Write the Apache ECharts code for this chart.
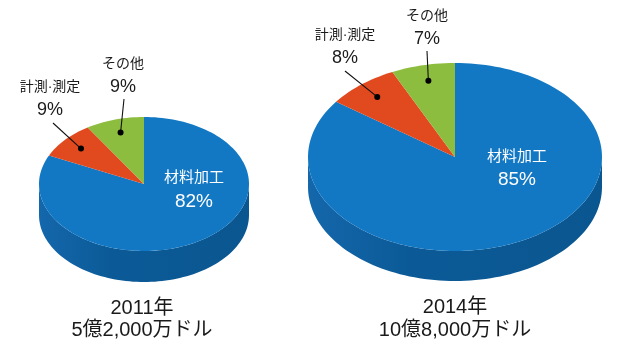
<!DOCTYPE html>
<html>
<head>
<meta charset="utf-8">
<script src="https://cdn.jsdelivr.net/npm/echarts@6/dist/echarts.min.js"></script>
<style>
  html, body { margin: 0; padding: 0; background: #fff; }
  #chart { width: 620px; height: 350px; }
</style>
</head>
<body>
<div id="chart"></div>
<script>
// Segment names and shares (%) for the two years
const categories = ['材料加工', '計測·測定', 'その他'];
const share2011 = [82, 9, 9];
const share2014 = [85, 8, 7];
const years = ['2011年', '2014年'];
const marketSize = ['5億2,000万ドル', '10億8,000万ドル'];

const sliceColors = ['#1278c4', '#e1491f', '#8dbd3e'];
const FONT = '"Liberation Sans", Arial, "Noto Sans CJK JP", sans-serif';

// Geometry of each tilted pie and where its labels sit
const pies = [
  {
    values: share2011, cx: 144, cy: 184, rx: 105, ry: 67, depth: 31, anchorR: 0.8,
    title: [142, 308, 330],
    inner: { name: [194, 178], value: [194, 202] },
    outer: {
      1: { name: [50, 87], value: [50, 110], lineEnd: [53, 123] },
      2: { name: [123, 64], value: [123, 87], lineEnd: [124, 99] }
    }
  },
  {
    values: share2014, cx: 455, cy: 157, rx: 147, ry: 94, depth: 30, anchorR: 0.83,
    title: [455, 307, 330],
    inner: { name: [517, 157], value: [517, 180] },
    outer: {
      1: { name: [345, 35], value: [345, 58], lineEnd: [345, 71] },
      2: { name: [427, 16], value: [427, 39], lineEnd: [427, 51] }
    }
  }
];

const rad = d => d * Math.PI / 180;
function ellPt(p, deg, r, dy) {
  return [p.cx + p.rx * r * Math.cos(rad(deg)), p.cy - p.ry * r * Math.sin(rad(deg)) + (dy || 0)];
}
function arcPts(p, from, to, dy) {
  const n = Math.max(2, Math.ceil(Math.abs(to - from) / 2));
  const out = [];
  for (let i = 0; i <= n; i++) out.push(ellPt(p, from + (to - from) * i / n, 1, dy));
  return out;
}

function makeRenderItem(p) {
  const total = p.values.reduce((a, b) => a + b, 0);
  const cum = [0];
  p.values.forEach(v => cum.push(cum[cum.length - 1] + v));
  return function (params, api) {
    const i = params.dataIndex;
    const v = api.value(0);
    // slices run clockwise from 12 o'clock
    const a0 = 90 - 360 * cum[i] / total;
    const a1 = 90 - 360 * (cum[i] + v) / total;
    const color = sliceColors[i];
    const children = [];

    // visible side wall: portions of the slice in the front half of the ellipse
    [[-540, -360], [-180, 0], [180, 360]].forEach(([lo, hi]) => {
      const s = Math.max(a1, lo), e = Math.min(a0, hi);
      if (e > s) {
        const top = arcPts(p, s, e, 0);
        const bottom = arcPts(p, e, s, p.depth);
        children.push({
          type: 'polygon',
          shape: { points: top.concat(bottom) },
          style: {
            fill: i === 0 ? new echarts.graphic.LinearGradient(0, 0, 1, 0, [
              { offset: 0, color: '#1467ab' },
              { offset: 0.35, color: '#0b5a97' },
              { offset: 1, color: '#0a5690' }
            ]) : color
          }
        });
      }
    });

    // top face of the slice
    children.push({
      type: 'polygon',
      shape: { points: [[p.cx, p.cy]].concat(arcPts(p, a0, a1, 0)) },
      style: { fill: color }
    });

    const pct = v + '%';
    if (i === 0) {
      children.push({
        type: 'text', x: p.inner.name[0], y: p.inner.name[1],
        style: { text: api.value(1), fill: '#fff', font: '15px ' + FONT, align: 'center', verticalAlign: 'middle' }
      });
      children.push({
        type: 'text', x: p.inner.value[0], y: p.inner.value[1],
        style: { text: pct, fill: '#fff', font: '19px ' + FONT, align: 'center', verticalAlign: 'middle' }
      });
    } else {
      const o = p.outer[i];
      const mid = (a0 + a1) / 2;
      const dot = ellPt(p, mid, p.anchorR, 0);
      children.push({
        type: 'line',
        shape: { x1: dot[0], y1: dot[1], x2: o.lineEnd[0], y2: o.lineEnd[1] },
        style: { stroke: '#111', lineWidth: 1.1 }
      });
      children.push({
        type: 'circle', shape: { cx: dot[0], cy: dot[1], r: 3 },
        style: { fill: '#000' }
      });
      children.push({
        type: 'text', x: o.name[0], y: o.name[1],
        style: { text: api.value(1), fill: '#1a1a1a', font: '14px ' + FONT, align: 'center', verticalAlign: 'middle' }
      });
      children.push({
        type: 'text', x: o.value[0], y: o.value[1],
        style: { text: pct, fill: '#1a1a1a', font: '18px ' + FONT, align: 'center', verticalAlign: 'middle' }
      });
    }
    return { type: 'group', children };
  };
}

const chart = echarts.init(document.getElementById('chart'), null, { renderer: 'canvas' });

const graphicTexts = [];
pies.forEach((p, k) => {
  graphicTexts.push({
    type: 'text', x: p.title[0], y: p.title[1],
    style: { text: years[k], fill: '#1a1a1a', font: '20px ' + FONT, align: 'center', verticalAlign: 'middle' }
  });
  graphicTexts.push({
    type: 'text', x: p.title[0], y: p.title[2],
    style: { text: marketSize[k], fill: '#1a1a1a', font: '20px ' + FONT, align: 'center', verticalAlign: 'middle' }
  });
});

chart.setOption({
  animation: false,
  backgroundColor: '#fff',
  graphic: graphicTexts,
  series: pies.map(p => ({
    type: 'custom',
    coordinateSystem: 'none',
    renderItem: makeRenderItem(p),
    data: p.values.map((v, i) => [v, categories[i]])
  }))
});
</script>
</body>
</html>
